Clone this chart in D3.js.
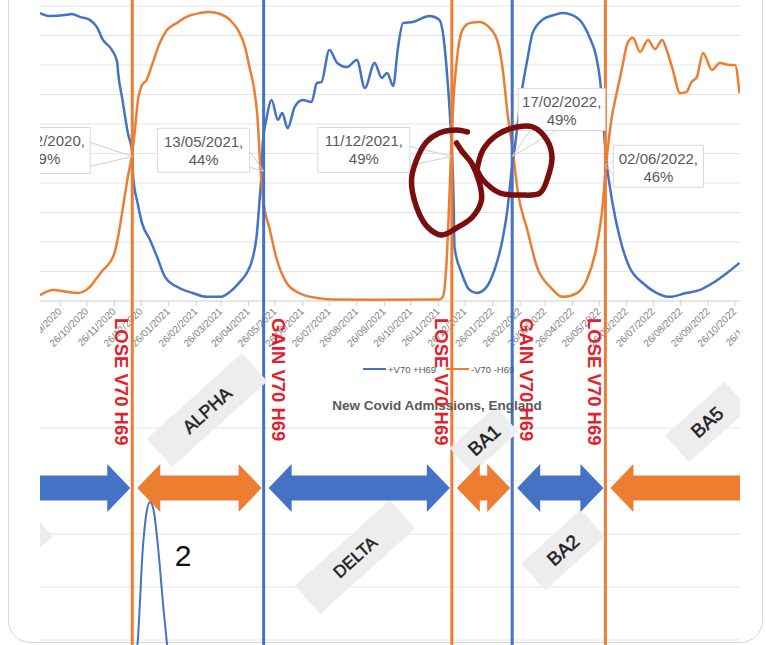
<!DOCTYPE html>
<html>
<head>
<meta charset="utf-8">
<script src="https://cdn.jsdelivr.net/npm/d3@7"></script>
<style>
  body { margin: 0; background: #fff; }
  svg { display: block; font-family: "Liberation Sans", Arial, sans-serif; }
</style>
</head>
<body>
<div id="chart"></div>
<script>
// share of cases with / without the V70 H69 deletion (%)
const blueSeries = [
  ["2020-09-03", 97.6], ["2020-09-14", 96.6], ["2020-10-03", 97.0], ["2020-10-09", 97.3],
  ["2020-10-18", 96.3], ["2020-10-29", 95.3], ["2020-11-06", 92.9], ["2020-11-13", 88.5],
  ["2020-11-23", 85.1], ["2020-11-29", 81.0], ["2020-11-30", 77.6], ["2020-12-05", 68.1],
  ["2020-12-11", 57.0], ["2020-12-16", 50.2], ["2020-12-17", 42.0], ["2020-12-22", 33.2],
  ["2020-12-27", 26.4], ["2021-01-05", 20.7], ["2021-01-13", 14.9], ["2021-01-22", 8.1],
  ["2021-02-07", 4.4], ["2021-02-22", 2.7], ["2021-03-10", 1.4], ["2021-03-25", 1.4],
  ["2021-04-05", 3.1], ["2021-04-16", 6.4], ["2021-04-24", 9.5], ["2021-05-01", 14.9],
  ["2021-05-05", 21.7], ["2021-05-09", 36.6], ["2021-05-11", 45.1], ["2021-05-12", 53.6],
  ["2021-05-16", 61.4], ["2021-05-22", 68.1], ["2021-05-29", 61.4], ["2021-06-03", 63.7],
  ["2021-06-09", 58.6], ["2021-06-17", 65.8], ["2021-06-26", 68.1], ["2021-07-06", 67.5],
  ["2021-07-12", 73.9], ["2021-07-17", 74.2], ["2021-07-26", 85.1], ["2021-08-04", 80.7],
  ["2021-08-15", 79.3], ["2021-08-26", 81.7], ["2021-09-04", 72.2], ["2021-09-15", 80.7],
  ["2021-09-23", 75.6], ["2021-09-29", 77.3], ["2021-10-06", 72.9], ["2021-10-11", 85.1],
  ["2021-10-17", 94.2], ["2021-10-28", 94.6], ["2021-11-16", 96.6], ["2021-11-27", 95.3],
  ["2021-12-01", 90.8], ["2021-12-05", 79.3], ["2021-12-09", 62.4], ["2021-12-11", 51.2],
  ["2021-12-13", 34.0], ["2021-12-14", 18.3], ["2021-12-22", 9.5], ["2021-12-31", 3.7],
  ["2022-01-08", 2.7], ["2022-01-19", 4.7], ["2022-01-28", 10.5], ["2022-02-06", 20.7],
  ["2022-02-12", 31.9], ["2022-02-16", 43.4], ["2022-02-20", 52.2], ["2022-02-28", 71.5],
  ["2022-03-06", 81.7], ["2022-03-12", 90.8], ["2022-03-23", 95.3], ["2022-04-06", 97.0],
  ["2022-04-15", 97.6], ["2022-04-25", 97.0], ["2022-05-06", 94.6], ["2022-05-15", 89.5],
  ["2022-05-23", 82.4], ["2022-05-27", 74.9], ["2022-06-03", 47.8], ["2022-06-10", 33.2],
  ["2022-06-18", 21.7], ["2022-06-29", 11.5], ["2022-07-14", 6.1], ["2022-07-30", 2.7],
  ["2022-08-13", 1.4], ["2022-09-01", 2.7], ["2022-09-16", 3.7], ["2022-10-01", 6.1],
  ["2022-10-17", 9.5], ["2022-10-31", 12.9]
];

const orangeSeries = [
  ["2020-09-03", 2.0], ["2020-09-18", 3.7], ["2020-10-03", 3.1], ["2020-10-15", 2.7],
  ["2020-10-29", 4.7], ["2020-11-06", 7.8], ["2020-11-13", 10.5], ["2020-11-21", 13.2],
  ["2020-11-26", 16.3], ["2020-11-30", 21.7], ["2020-12-05", 30.8], ["2020-12-11", 42.0],
  ["2020-12-16", 50.2], ["2020-12-19", 58.0], ["2020-12-22", 67.1], ["2020-12-27", 73.2],
  ["2021-01-01", 74.9], ["2021-01-08", 80.7], ["2021-01-16", 87.5], ["2021-01-24", 91.9],
  ["2021-02-04", 94.2], ["2021-02-15", 96.3], ["2021-03-02", 97.6], ["2021-03-13", 98.0],
  ["2021-03-25", 97.3], ["2021-04-05", 95.3], ["2021-04-14", 91.9], ["2021-04-22", 86.1],
  ["2021-04-27", 79.3], ["2021-05-03", 70.5], ["2021-05-06", 62.4], ["2021-05-09", 46.8],
  ["2021-05-12", 35.3], ["2021-05-20", 24.1], ["2021-05-28", 13.9], ["2021-06-08", 6.1],
  ["2021-06-22", 2.7], ["2021-07-12", 1.0], ["2021-07-30", 0.5], ["2021-09-15", 0.4],
  ["2021-11-27", 0.5], ["2021-12-01", 1.4], ["2021-12-05", 12.9], ["2021-12-09", 41.0],
  ["2021-12-12", 63.7], ["2021-12-18", 85.1], ["2021-12-23", 91.9], ["2021-12-31", 94.2],
  ["2022-01-12", 94.6], ["2022-01-19", 93.6], ["2022-01-31", 88.5], ["2022-02-06", 79.3],
  ["2022-02-12", 63.0], ["2022-02-18", 50.2], ["2022-02-23", 37.6], ["2022-03-06", 24.1],
  ["2022-03-17", 11.5], ["2022-04-01", 4.7], ["2022-04-15", 1.4], ["2022-05-01", 2.7],
  ["2022-05-12", 7.1], ["2022-05-23", 18.3], ["2022-05-29", 29.8], ["2022-06-03", 46.8],
  ["2022-06-10", 63.7], ["2022-06-13", 68.1], ["2022-06-21", 79.3], ["2022-06-27", 87.5],
  ["2022-07-03", 89.2], ["2022-07-11", 84.4], ["2022-07-20", 88.5], ["2022-07-28", 85.4],
  ["2022-08-05", 88.5], ["2022-08-10", 85.1], ["2022-08-17", 78.3], ["2022-08-25", 70.5],
  ["2022-09-01", 70.8], ["2022-09-07", 74.2], ["2022-09-13", 75.9], ["2022-09-20", 84.1],
  ["2022-09-30", 78.3], ["2022-10-09", 80.7], ["2022-10-20", 80.0], ["2022-10-26", 80.0],
  ["2022-10-31", 70.5]
];

// lower chart: new covid admissions (only the Jan 2021 spike is visible)
const admissions = [
  ["2020-12-19", 500], ["2020-12-22", 943], ["2020-12-28", 2755], ["2021-01-01", 3396],
  ["2021-01-05", 3604], ["2021-01-09", 3453], ["2021-01-14", 2755], ["2021-01-20", 1623],
  ["2021-01-24", 943], ["2021-01-27", 450]
];

const tickLabels = [
  "26/09/2020", "26/10/2020", "26/11/2020", "26/12/2020",
  "26/01/2021", "26/02/2021", "26/03/2021", "26/04/2021", "26/05/2021", "26/06/2021",
  "26/07/2021", "26/08/2021", "26/09/2021", "26/10/2021", "26/11/2021", "26/12/2021",
  "26/01/2022", "26/02/2022", "26/03/2022", "26/04/2022", "26/05/2022", "26/06/2022",
  "26/07/2022", "26/08/2022", "26/09/2022", "26/10/2022", "26/11/2022"
];
const pctTicks = [0, 10, 20, 30, 40, 50, 60, 70, 80, 90, 100];
const admitTicks = [1000, 2000, 3000, 4000, 5000];

// crossover points, marked with callouts and vertical lines
const crossDates = ["2020-12-16", "2021-05-13", "2021-12-11", "2022-02-17", "2022-06-02"];
const crossValues = [49, 44, 49, 49, 46];
const crossKinds = ["LOSE", "GAIN", "LOSE", "GAIN", "LOSE"];

const variantNames = ["", "ALPHA", "DELTA", "BA1", "BA2", "BA5"];
const seriesNames = ["+V70 +H69", "-V70 -H69"];

// ---------------------------------------------------------------
const width = 766, height = 645;
const blue = "#4472c4", orange = "#ed7d31", red = "#e3202b", maroon = "#7a0d0d";
const parse = d3.utcParse("%Y-%m-%d");
const parseTick = d3.utcParse("%d/%m/%Y");
const fmtCross = d3.utcFormat("%d/%m/%Y,");

const x = d3.scaleUtc()
  .domain([parse("2020-10-26"), parse("2022-10-26")])
  .range([87, 735]);
const y = d3.scaleLinear([0, 100], [301, 6]);
const y2 = d3.scaleLinear([0, 5000], [693, 428]);

const svg = d3.select("#chart").append("svg")
  .attr("width", width)
  .attr("height", height)
  .attr("viewBox", [0, 0, width, height]);

svg.append("defs").append("clipPath").attr("id", "clip")
  .append("rect").attr("x", 40).attr("y", 0).attr("width", 700).attr("height", height);

// tweet card frame
svg.append("rect")
  .attr("x", 8.5).attr("y", -40).attr("width", 754).attr("height", 682.5)
  .attr("rx", 22).attr("fill", "#fff").attr("stroke", "#cfd9de");

const plot = svg.append("g").attr("clip-path", "url(#clip)");

// ---- top chart
plot.append("g")
  .selectAll("line")
  .data(pctTicks)
  .join("line")
  .attr("x1", 40).attr("x2", 740)
  .attr("y1", d => y(d)).attr("y2", d => y(d))
  .attr("stroke", d => d === 0 ? "#d0d0d0" : "#e4e4e4");

const tickDates = tickLabels.map(parseTick);
plot.append("g")
  .selectAll("line")
  .data(tickDates)
  .join("line")
  .attr("x1", d => x(d)).attr("x2", d => x(d))
  .attr("y1", y(0)).attr("y2", y(0) + 5)
  .attr("stroke", "#d0d0d0");

plot.append("g")
  .attr("fill", "#7f7f7f")
  .style("font-size", "10px")
  .selectAll("text")
  .data(tickLabels)
  .join("text")
  .attr("text-anchor", "end")
  .attr("transform", d => `translate(${x(parseTick(d)) + 2},${y(0) + 11}) rotate(-45)`)
  .text(d => d);

const line = d3.line()
  .x(d => x(parse(d[0])))
  .y(d => y(d[1]))
  .curve(d3.curveMonotoneX);

plot.append("path").datum(blueSeries)
  .attr("d", line).attr("fill", "none")
  .attr("stroke", blue).attr("stroke-width", 2.5).attr("stroke-linejoin", "round");
plot.append("path").datum(orangeSeries)
  .attr("d", line).attr("fill", "none")
  .attr("stroke", orange).attr("stroke-width", 2.5).attr("stroke-linejoin", "round");

// legend
const legend = svg.append("g").style("font-size", "9.5px").attr("fill", "#595959");
[[363, blue], [446, orange]].forEach(([lx, c], i) => {
  legend.append("line")
    .attr("x1", lx).attr("x2", lx + 23).attr("y1", 369).attr("y2", 369)
    .attr("stroke", c).attr("stroke-width", 2);
  legend.append("text").attr("x", lx + 25).attr("y", 372.5).text(seriesNames[i]);
});

// ---- lower chart
plot.append("g")
  .selectAll("line")
  .data(admitTicks)
  .join("line")
  .attr("x1", 40).attr("x2", 740)
  .attr("y1", d => y2(d)).attr("y2", d => y2(d))
  .attr("stroke", "#e4e4e4");

svg.append("text")
  .attr("x", 437).attr("y", 410)
  .attr("text-anchor", "middle")
  .attr("fill", "#595959")
  .style("font-size", "13.5px").style("font-weight", "bold")
  .text("New Covid Admissions, England");

plot.append("path").datum(admissions)
  .attr("d", d3.line().x(d => x(parse(d[0]))).y(d => y2(d[1])).curve(d3.curveMonotoneX))
  .attr("fill", "none").attr("stroke", blue).attr("stroke-width", 2);

// ---- vertical switch lines
const crosses = crossDates.map((d, i) => ({
  date: parse(d), value: crossValues[i], kind: crossKinds[i]
}));

plot.append("g")
  .selectAll("line")
  .data(crosses)
  .join("line")
  .attr("x1", d => x(d.date)).attr("x2", d => x(d.date))
  .attr("y1", 0).attr("y2", height)
  .attr("stroke", d => d.kind === "LOSE" ? orange : blue)
  .attr("stroke-width", 3);

// ---- callouts
const calloutBoxes = [   // box offsets from the crossing point: [left, top, right, bottom]
  [-132, -29, -42, 17],
  [-106, -43, -14, 1],
  [-134, -29, -42, 16],
  [6, -68, 93, -26],
  [8, -20, 98, 22]
];
const calloutLeaders = [  // two points on the box edge that the pointer starts from
  [[-42, -14], [-42, 10]],
  [[-14, -20], [-14, -4]],
  [[-42, -10], [-42, 9]],
  [[18, -26], [44, -26]],
  [[8, -4], [8, 10]]
];
const callouts = plot.append("g");
crosses.forEach((c, i) => {
  const px = x(c.date), py = y(c.value);
  const [l, t, r, b] = calloutBoxes[i];
  const g = callouts.append("g").attr("transform", `translate(${px},${py})`);
  const [p1, p2] = calloutLeaders[i];
  g.append("path")
    .attr("d", `M${p1[0]},${p1[1]}L0,0L${p2[0]},${p2[1]}`)
    .attr("fill", "none").attr("stroke", "#d0d0d0");
  g.append("rect")
    .attr("x", l).attr("y", t).attr("width", r - l).attr("height", b - t)
    .attr("fill", "#fff").attr("stroke", "#d9d9d9");
  const tx = (l + r) / 2;
  g.append("text").attr("x", tx).attr("y", t + 19)
    .attr("text-anchor", "middle").attr("fill", "#595959").style("font-size", "15px")
    .text(fmtCross(c.date));
  g.append("text").attr("x", tx).attr("y", t + 37)
    .attr("text-anchor", "middle").attr("fill", "#595959").style("font-size", "15px")
    .text(c.value + "%");
});

// ---- red vertical captions
svg.append("g")
  .attr("fill", red)
  .style("font-size", "18.5px").style("font-weight", "bold")
  .selectAll("text")
  .data(crosses)
  .join("text")
  .attr("transform", d => `translate(${x(d.date) + (d.kind === "LOSE" ? -17 : 8)},318) rotate(90)`)
  .text(d => `${d.kind} V70 H69`);

// ---- variant tags (grey rotated boxes)
const tagLayout = [  // centre x, centre y, box length, box depth, font size
  [13, 548, 75, 36, 18],
  [207, 410, 128, 38, 18],
  [355, 557, 128, 38, 17],
  [484, 440, 62, 34, 19],
  [563, 550, 80, 36, 19],
  [707, 422, 80, 36, 19]
];
const tags = plot.append("g");
variantNames.forEach((name, i) => {
  const [cx, cy, w, h, fs] = tagLayout[i];
  const g = tags.append("g").attr("transform", `translate(${cx},${cy}) rotate(-42)`);
  g.append("rect").attr("x", -w / 2).attr("y", -h / 2).attr("width", w).attr("height", h)
    .attr("fill", "#ededed");
  g.append("text").attr("y", fs * 0.36).attr("text-anchor", "middle")
    .attr("fill", "#222").attr("stroke", "#222").attr("stroke-width", 0.5)
    .style("font-size", fs + "px")
    .text(name);
});

// ---- period arrows between the switch lines
const periodEdges = [null, ...crosses.map(d => d.date), null];
const arrowColors = [blue, orange, blue, orange, blue, orange];
const arrowY = 488, shaft = 12.5, headH = 24, headL = 23;
const arrowPath = (x0, x1, left, right) => {
  const p = [];
  if (left) p.push([x0, arrowY], [x0 + headL, arrowY - headH], [x0 + headL, arrowY - shaft]);
  else p.push([x0, arrowY - shaft]);
  if (right) p.push([x1 - headL, arrowY - shaft], [x1 - headL, arrowY - headH], [x1, arrowY],
                    [x1 - headL, arrowY + headH], [x1 - headL, arrowY + shaft]);
  else p.push([x1, arrowY - shaft], [x1, arrowY + shaft]);
  if (left) p.push([x0 + headL, arrowY + shaft], [x0 + headL, arrowY + headH]);
  else p.push([x0, arrowY + shaft]);
  return "M" + p.join("L") + "Z";
};
const arrows = plot.append("g");
arrowColors.forEach((c, i) => {
  const a = periodEdges[i], b = periodEdges[i + 1];
  const x0 = a ? x(a) + 5 : 20;
  const x1 = b ? x(b) - 2 : 760;
  arrows.append("path").attr("d", arrowPath(x0, x1, !!a, !!b)).attr("fill", c);
});

svg.append("text")
  .attr("x", 183).attr("y", 566)
  .attr("text-anchor", "middle").attr("fill", "#111")
  .style("font-size", "30px")
  .text("2");

// ---- hand-drawn loops around the BA1 crossovers
const loops = [
  { date: "2021-12-05", value: 40, pts: [[21, -51], [10, -53], [-7, -50], [-20, -41], [-30, -23], [-35, -3],
    [-30, 24], [-19, 44], [-5, 52], [10, 45], [26, 34], [35, 17], [33, 0], [25, -20], [16, -31], [10, -40]] },
  { date: "2022-02-19", value: 47.8, pts: [[-37, 10], [-31, -10], [-17, -25], [3, -33], [19, -33], [33, -20],
    [38, -3], [34, 17], [26, 33], [6, 35], [-14, 33], [-31, 20], [-37, 10]] }
];
const scribble = d3.line().curve(d3.curveCatmullRom.alpha(0.5));
loops.forEach(l => {
  svg.append("path")
    .attr("transform", `translate(${x(parse(l.date))},${y(l.value)})`)
    .attr("d", scribble(l.pts))
    .attr("fill", "none").attr("stroke", maroon)
    .attr("stroke-width", 5.5).attr("stroke-linecap", "round").attr("stroke-linejoin", "round");
});
</script>
</body>
</html>
